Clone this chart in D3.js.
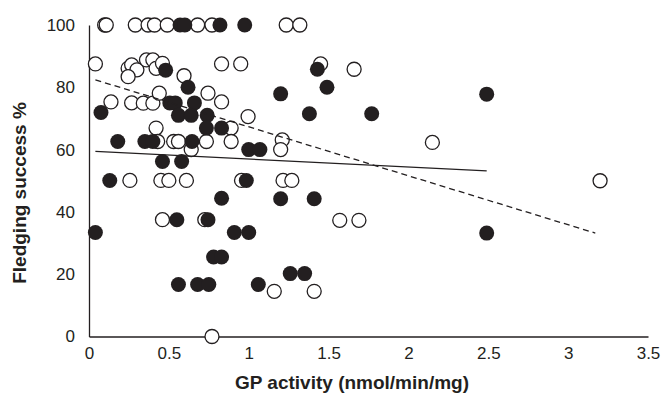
<!DOCTYPE html>
<html>
<head>
<meta charset="utf-8">
<script src="https://cdn.jsdelivr.net/npm/d3@7"></script>
<style>
  body { margin: 0; background: #fff; }
  text { font-family: "Liberation Sans", Arial, sans-serif; fill: #231f20; }
</style>
</head>
<body>
<div id="chart"></div>
<script>
// open circles (x = GP activity, y = fledging success %)
var openX = [0.098, 0.108, 0.29, 0.37, 0.41, 0.49, 0.68, 0.77, 1.235, 1.32,
  0.04, 0.83, 0.95, 0.245, 0.267, 0.30, 0.245, 0.36, 0.40, 0.42, 0.46, 0.595, 1.45, 1.66,
  0.1375, 0.267, 0.34, 0.40, 0.44, 0.745, 0.83, 0.996,
  0.42, 0.89,
  0.43, 0.53, 0.56, 0.735, 0.89, 1.21, 0.64, 1.2, 2.15,
  0.256, 0.45, 0.50, 0.61, 0.955, 1.215, 1.27, 3.2,
  0.46, 0.725, 1.57, 1.69,
  1.16, 1.41, 0.77];
var openY = [100, 100, 100, 100, 100, 100, 100, 100, 100, 100,
  87.5, 87.5, 87.5, 86.1, 87.2, 85.6, 83.4, 88.8, 88.8, 86.1, 87.7, 83.7, 87.5, 85.8,
  75.3, 75, 74.9, 74.9, 78.1, 78.1, 75.3, 70.6,
  66.9, 66.9,
  62.6, 62.6, 62.6, 62.6, 62.6, 63.1, 60, 60, 62.3,
  50.1, 50.1, 50.1, 50.1, 50.1, 50.1, 50.1, 50,
  37.5, 37.5, 37.3, 37.3,
  14.5, 14.5, 0];

// filled circles
var filledX = [0.57, 0.60, 0.82, 0.975,
  0.48, 0.62, 1.43, 1.49, 1.2, 1.38, 1.77, 2.49,
  0.506, 0.54, 0.66, 0.075, 0.56, 0.64, 0.74,
  0.735, 0.83,
  0.18, 0.35, 0.40, 0.645, 1.0, 1.07,
  0.46, 0.58, 0.13, 0.985,
  0.83, 1.2, 1.41, 0.55, 0.745,
  0.04, 0.91, 1.0, 2.49,
  0.78, 0.83, 1.26, 1.35, 0.56, 0.68, 0.75, 1.06];
var filledY = [100, 100, 100, 100,
  85.5, 80, 85.8, 80, 77.9, 71.5, 71.5, 77.8,
  75, 75, 75, 71.9, 71, 71, 71,
  66.9, 66.9,
  62.6, 62.6, 62.6, 62.6, 60, 60,
  56.2, 56.2, 50.1, 50.1,
  44.4, 44.2, 44.2, 37.5, 37.5,
  33.4, 33.4, 33.4, 33.2,
  25.5, 25.5, 20.2, 20.2, 16.7, 16.7, 16.7, 16.7];

// trend lines (end points)
var solidLineX = [0.04, 2.49];
var solidLineY = [59.4, 53.2];
var dashedLineX = [0.04, 3.17];
var dashedLineY = [82.4, 33.2];

var xTicks = [0, 0.5, 1, 1.5, 2, 2.5, 3, 3.5];
var yTicks = [0, 20, 40, 60, 80, 100];

var width = 669, height = 397;
var margin = { top: 25, right: 21, bottom: 60, left: 89 };
var innerW = width - margin.left - margin.right;
var innerH = height - margin.top - margin.bottom;
var ink = "#231f20";

var svg = d3.select("#chart")
  .append("svg")
  .attr("width", width)
  .attr("height", height);

var g = svg.append("g")
  .attr("transform", "translate(" + margin.left + "," + margin.top + ")");

var x = d3.scaleLinear().domain([0, 3.5]).range([0, innerW]);
var y = d3.scaleLinear().domain([0, 100]).range([innerH - 0.5, 0]);

//x axis
var xAxis = g.append("g")
  .attr("transform", "translate(0," + y(0) + ")")
  .call(d3.axisBottom(x).tickValues(xTicks).tickSize(0).tickPadding(10)
    .tickFormat(function (d) { return String(d); }));
xAxis.select(".domain").attr("stroke", ink).attr("stroke-width", 1.3);
xAxis.selectAll("text").style("font-size", "17px").attr("fill", ink);

//y axis
var yAxis = g.append("g")
  .call(d3.axisLeft(y).tickValues(yTicks).tickSize(0).tickPadding(14));
yAxis.select(".domain").attr("stroke", ink).attr("stroke-width", 1.3);
yAxis.selectAll("text").style("font-size", "17px").attr("fill", ink);

// open points
g.selectAll("circle.open")
  .data(d3.range(openX.length))
  .enter()
  .append("circle")
  .attr("class", "open")
  .attr("cx", function (i) { return x(openX[i]); })
  .attr("cy", function (i) { return y(openY[i]); })
  .attr("r", 7)
  .attr("fill", "#fff")
  .attr("stroke", ink)
  .attr("stroke-width", 1.3);

// filled points
g.selectAll("circle.filled")
  .data(d3.range(filledX.length))
  .enter()
  .append("circle")
  .attr("class", "filled")
  .attr("cx", function (i) { return x(filledX[i]); })
  .attr("cy", function (i) { return y(filledY[i]); })
  .attr("r", 7.5)
  .attr("fill", ink);

var line = d3.line()
  .x(function (d) { return x(d[0]); })
  .y(function (d) { return y(d[1]); });

g.append("path")
  .datum(d3.zip(solidLineX, solidLineY))
  .attr("d", line)
  .attr("fill", "none")
  .attr("stroke", ink)
  .attr("stroke-width", 1.3);

g.append("path")
  .datum(d3.zip(dashedLineX, dashedLineY))
  .attr("d", line)
  .attr("fill", "none")
  .attr("stroke", ink)
  .attr("stroke-width", 1.3)
  .attr("stroke-dasharray", "6,4");

// axis titles
svg.append("text")
  .attr("x", 352)
  .attr("y", 389)
  .attr("text-anchor", "middle")
  .style("font-size", "19px")
  .style("font-weight", "bold")
  .text("GP activity (nmol/min/mg)");

svg.append("text")
  .attr("transform", "translate(26," + 193 + ") rotate(-90)")
  .attr("text-anchor", "middle")
  .style("font-size", "19px")
  .style("font-weight", "bold")
  .text("Fledging success %");
</script>
</body>
</html>
